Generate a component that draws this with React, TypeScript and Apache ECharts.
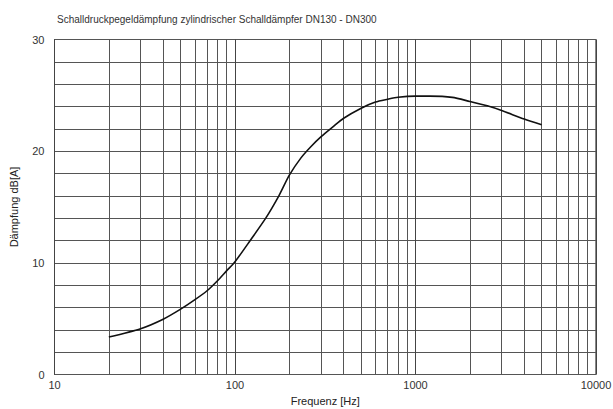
import React, { useEffect, useRef } from "react";
import * as echarts from "echarts";

const titleText = "Schalldruckpegeldämpfung zylindrischer Schalldämpfer DN130 - DN300";
const xAxisName = "Frequenz [Hz]";
const yAxisName = "Dämpfung dB[A]";

const freqs = [20, 30, 40, 50, 60, 70, 80, 90, 100, 122, 148, 175, 200, 232, 263, 300, 350, 400, 500, 600, 700, 800, 1000, 1200, 1600, 2000, 2500, 3000, 4000, 5000];
const damping = [3.35, 4.1, 4.95, 5.85, 6.7, 7.5, 8.4, 9.3, 10.1, 12.05, 14.0, 16.0, 17.85, 19.4, 20.4, 21.3, 22.2, 22.95, 23.85, 24.4, 24.65, 24.83, 24.93, 24.93, 24.82, 24.45, 24.06, 23.64, 22.87, 22.36];

const minorGridFreqs = [
  20, 30, 40, 50, 60, 70, 80, 90,
  200, 300, 400, 500, 600, 700, 800, 900,
  2000, 3000, 4000, 5000, 6000, 7000, 8000, 9000,
];
const yLabelValues = [0, 10, 20, 30];

export default function App() {
  const ref = useRef<HTMLDivElement>(null);
  useEffect(() => {
    if (!ref.current) return;
    const chart = echarts.init(ref.current, null, { renderer: "svg" });
    const font = "Liberation Sans, Arial, sans-serif";
    chart.setOption({
      animation: false,
      backgroundColor: "#fff",
      textStyle: { fontFamily: font },
      title: {
        text: titleText,
        left: 52,
        top: 9,
        textStyle: { fontSize: 10, fontWeight: "normal", color: "#333", fontFamily: font },
      },
      grid: {
        left: 54.5,
        right: 17,
        top: 39.5,
        bottom: 34.5,
        show: true,
        borderColor: "#111",
        borderWidth: 1,
        outerBoundsMode: "none",
        containLabel: false,
      },
      xAxis: {
        type: "log",
        logBase: 10,
        min: 10,
        max: 10000,
        name: xAxisName,
        nameLocation: "middle",
        nameGap: 18,
        nameTextStyle: { fontSize: 11, color: "#222", fontFamily: font },
        axisLine: { show: false },
        axisTick: { show: false },
        axisLabel: {
          fontSize: 11,
          color: "#333",
          margin: 5,
          fontFamily: font,
          formatter: (v: number) => String(Math.round(v)),
        },
        splitLine: { show: true, lineStyle: { color: "#444", width: 1 } },
        minorTick: { show: false },
        minorSplitLine: { show: false },
      },
      yAxis: {
        type: "value",
        min: 0,
        max: 30,
        interval: 2,
        name: yAxisName,
        nameLocation: "middle",
        nameGap: 35,
        nameTextStyle: { fontSize: 11, color: "#222", fontFamily: font },
        axisLine: { show: false },
        axisTick: { show: false },
        axisLabel: {
          fontSize: 11,
          color: "#333",
          margin: 10,
          fontFamily: font,
          formatter: (v: number) => (yLabelValues.includes(v) ? String(v) : ""),
        },
        splitLine: { show: true, lineStyle: { color: "#555", width: 1 } },
      },
      series: [
        {
          type: "line",
          data: freqs.map((f, i) => [f, damping[i]]),
          smooth: 0.25,
          showSymbol: false,
          symbol: "none",
          lineStyle: { color: "#111", width: 1.6 },
          markLine: {
            silent: true,
            symbol: "none",
            label: { show: false },
            lineStyle: { color: "#555", width: 1, type: "solid" },
            data: minorGridFreqs.map((f) => ({ xAxis: f })),
            z: 1,
          },
          z: 5,
        },
      ],
    });
    return () => chart.dispose();
  }, []);
  return <div ref={ref} style={{ width: 613, height: 409, position: "absolute", left: 0, top: 0 }} />;
}
